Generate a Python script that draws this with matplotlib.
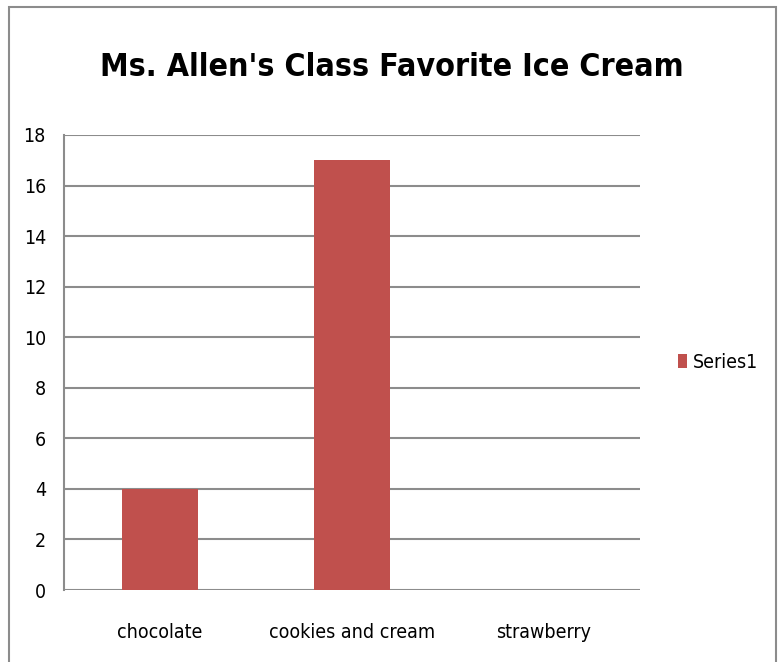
import matplotlib.pyplot as plt
from matplotlib.patches import Rectangle

# data
flavors = ['chocolate', 'cookies and cream', 'strawberry']
votes = [4, 17, 0]
series_name = 'Series1'
yticks = list(range(0, 19, 2))

plt.rcParams['font.family'] = ['DejaVu Sans']
plt.rcParams['font.stretch'] = 'condensed'

fig = plt.figure(figsize=(7.83, 6.62), dpi=100)
ax = fig.add_axes([64 / 783, 72 / 662, 576 / 783, 455 / 662])

x = range(len(flavors))
ax.bar(x, votes, width=0.4, color='#c0504d', label=series_name, zorder=3)

ax.set_xlim(-0.5, 2.5)
ax.set_ylim(0, 18)
ax.set_yticks(yticks)
ax.set_xticks(list(x))
ax.set_xticklabels(flavors)
ax.tick_params(axis='both', length=0, labelsize=14, colors='black')
ax.tick_params(axis='x', pad=24)
ax.tick_params(axis='y', pad=13)
ax.yaxis.grid(True, color='#8c8c8c', linewidth=1.5, zorder=0)

for side in ['top', 'right', 'bottom']:
    ax.spines[side].set_visible(False)
ax.spines['left'].set_color('#8c8c8c')
ax.spines['left'].set_linewidth(1.5)

fig.text(392 / 783, 1 - 68 / 662, "Ms. Allen's Class Favorite Ice Cream",
         ha='center', va='center', fontsize=23, fontweight='bold')

ax.legend(loc='center left', bbox_to_anchor=(1.035, 0.5), frameon=False,
          fontsize=14, handlelength=0.5, handleheight=0.75, handletextpad=0.3)

# outer chart border
fig.patches.append(Rectangle((9 / 783, -0.01), 767 / 783, 1 - 7 / 662 + 0.01,
                             transform=fig.transFigure, fill=False,
                             edgecolor='#8c8c8c', linewidth=1.5))

fig.savefig('out.png', dpi=100)
